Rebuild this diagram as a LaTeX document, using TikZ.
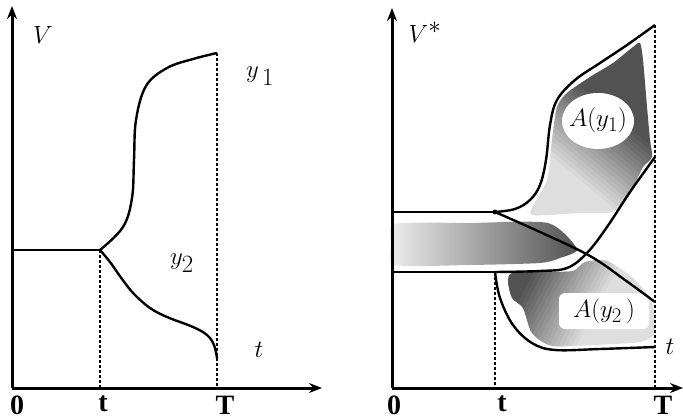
\documentclass[tikz,border=0pt]{standalone}
\usepackage{fontspec}
\setmainfont{Liberation Serif}
\usetikzlibrary{arrows.meta}
\begin{document}
\begin{tikzpicture}[x=1pt,y=-1pt,every node/.style={inner sep=0pt},
  axis/.style={line width=3pt,-{Stealth[length=13pt,width=10pt]}},
  curve/.style={line width=2.4pt},
  guide/.style={dash pattern=on 3pt off 2pt,line width=1.1pt},
  tick/.style={font=\fontsize{28}{28}\selectfont\bfseries,anchor=north},
  lbl/.style={font=\fontsize{36}{36}\selectfont},
  area/.style={font=\fontsize{30}{30}\selectfont}]
\useasboundingbox (0,0) rectangle (683,420);
% left picture
\coordinate (o1) at (12,388);
\coordinate (v1) at (12,6);
\coordinate (h1) at (322,388);
\coordinate (s1) at (12,250);
\coordinate (k1) at (100,250);
\coordinate (e11) at (217,53);
\coordinate (e12) at (217,358);
\draw[guide] (k1) -- (k1|-o1);
\draw[guide] (e11) -- (e11|-o1);
\draw[curve] (s1) -- (k1);
\draw[curve] plot[smooth,tension=0.6] coordinates {(k1) (123,227) (132,198) (134,160) (136,120) (146,86) (167,68) (193,59) (e11)};
\draw[curve] plot[smooth,tension=0.6] coordinates {(k1) (110,262) (122,279) (134,294) (150,308) (167,317) (193,327) (207,335) (214,345) (e12)};
\draw[axis] (o1) -- (v1);
\draw[axis] (o1) -- (h1);
\node[lbl] (lV) at (43,35) {$V$};
\node[lbl,font=\fontsize{42}{42}\selectfont] (ly1) at (260,76) {$y_{\,1}$};
\node[lbl] (ly2) at (182,263) {$y_2$};
\node[lbl] (lt1) at (259,350) {$t$};
\foreach \n/\x/\s in {z1/17/0,t1/103/t,T1/225/T}
  \node[tick] (\n) at (\x,396) {\s};
% right picture
\coordinate (o2) at (392,388);
\coordinate (v2) at (392,8);
\coordinate (h2) at (683,388);
\coordinate (a2) at (392,212);
\coordinate (b2) at (392,272);
\coordinate (ka) at (495,212);
\coordinate (kb) at (495,272);
\coordinate (ea) at (655,25);
\coordinate (eb) at (655,157);
\coordinate (ec) at (655,302);
\coordinate (ed) at (655,347);
\shade[left color=black!6,right color=black!68] plot[smooth cycle,tension=0.4] coordinates {(395,224) (470,223) (548,223) (577,249) (560,258) (540,263) (470,265) (395,265) (391,245)};
% area A(y1)
\begin{scope}
\clip plot[smooth cycle,tension=0.4] coordinates {(530,213) (547,180) (552,140) (557,107) (567,93) (590,77) (613,63) (633,47) (640,43) (643,60) (647,107) (650,140) (652,157) (643,167) (633,187) (620,207) (607,213) (580,213) (547,215)};
\fill[black!13] (520,30) rectangle (660,220);
\begin{scope}[rotate around={-40:(600,150)}]
\fill[black!68] (400,-100) -- (800,-100) -- (800,111) -- (400,111) -- cycle;
\foreach \i [evaluate=\i as \c using 68-2.9*\i, evaluate=\i as \y using 110+4*\i] in {0,...,19}
  \fill[black!\c] (400,\y) -- (800,\y) -- (800,\y+4.6) -- (400,\y+4.6) -- cycle;
\end{scope}
\end{scope}
% area A(y2)
\begin{scope}
\clip plot[smooth cycle,tension=0.4] coordinates {(508,282) (512,273) (545,272) (573,271) (585,262) (607,261) (633,278) (650,298) (655,317) (654,335) (640,342) (613,344) (553,346) (532,333) (523,308) (512,298)};
\fill[black!13] (500,250) rectangle (660,350);
\begin{scope}[rotate around={-28:(560,300)}]
\fill[black!68] (300,100) -- (521,100) -- (521,500) -- (300,500) -- cycle;
\foreach \i [evaluate=\i as \c using 68-2.9*\i, evaluate=\i as \x using 520+4*\i] in {0,...,19}
  \fill[black!\c] (\x,100) -- (\x+4.6,100) -- (\x+4.6,500) -- (\x,500) -- cycle;
\end{scope}
\end{scope}
\fill[white] (598,121) ellipse [x radius=36,y radius=28];
\fill[white,rounded corners=6pt] (559,293) rectangle (649,329);
\draw[guide] (kb) -- (kb|-o2);
\draw[guide] (ea) -- (ea|-o2);
\draw[curve] (a2) -- (ka);
\draw[curve] (b2) -- (kb);
\draw[curve] plot[smooth,tension=0.6] coordinates {(ka) (515,209) (530,200) (540,185) (546,160) (550,125) (557,100) (575,80) (600,63) (627,45) (ea)};
\draw[curve] plot[smooth,tension=0.6] coordinates {(ka) (540,232) (590,256) (625,280) (ec)};
\draw[curve] plot[smooth,tension=0.6] coordinates {(kb) (540,271) (567,268) (587,253) (607,227) (630,192) (eb)};
\draw[curve] plot[smooth,tension=0.6] coordinates {(kb) (500,298) (513,325) (532,343) (555,350) (600,349) (ed)};
\fill (ka) circle (2.4pt);
\draw[axis] (o2) -- (v2);
\draw[axis] (o2) -- (h2);
\node[lbl] (lV2) at (425,32) {$V^*$};
\node[area] (lA1) at (598,120) {$A(y_1)$};
\node[area] (lA2) at (604,311) {$A(y_2\,)$};
\node[lbl] (lt2) at (670,347) {$t$};
\foreach \n/\x/\s in {z2/394/0,t2/502/t,T2/663/T}
  \node[tick] (\n) at (\x,396) {\s};
\end{tikzpicture}
\end{document}
